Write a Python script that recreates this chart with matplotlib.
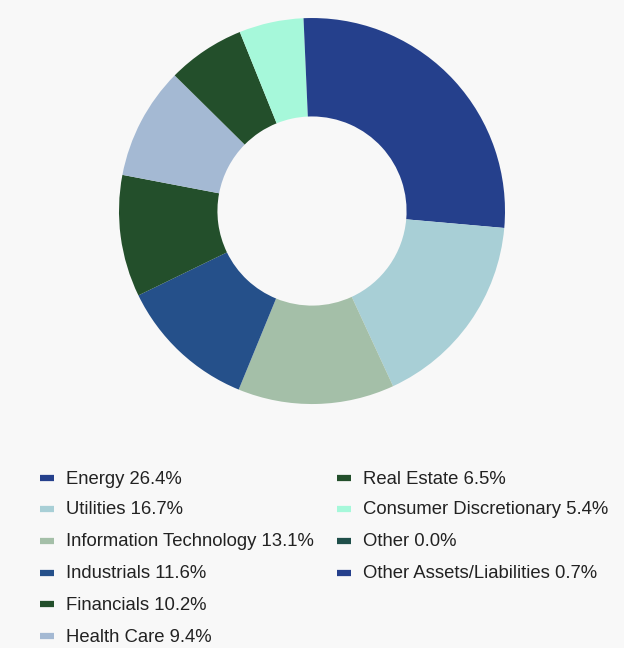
import matplotlib.pyplot as plt
from matplotlib.lines import Line2D

# sector weights
labels = ["Energy", "Utilities", "Information Technology", "Industrials",
          "Financials", "Health Care", "Real Estate", "Consumer Discretionary",
          "Other", "Other Assets/Liabilities"]
values = [26.4, 16.7, 13.1, 11.6, 10.2, 9.4, 6.5, 5.4, 0.0, 0.7]
colors = ["#25408C", "#A8CFD6", "#A4BFA8", "#25508A", "#234F2B",
          "#A4B9D3", "#234F2B", "#A6F8DA", "#1F4F4A", "#25408C"]

plt.rcParams["font.family"] = ["Liberation Sans", "DejaVu Sans"]

fig = plt.figure(figsize=(6.24, 6.48), dpi=100)
fig.patch.set_facecolor("#F8F8F8")

ax = fig.add_axes([(312 - 193) / 624, 0.3765, 386 / 624, 386 / 648])
ax.set_facecolor("#F8F8F8")
ax.pie(values, colors=colors, startangle=90, counterclock=False,
       radius=1.0, wedgeprops=dict(width=0.51, linewidth=0))
ax.set_xlim(-1, 1)
ax.set_ylim(-1, 1)
ax.set_aspect("equal")
ax.axis("off")

# legend: 6 rows in first column, 4 in second
row_y = [478, 509, 541, 573, 604, 636]
col_x = [40, 337]
for i, (lab, val, col) in enumerate(zip(labels, values, colors)):
    c = 0 if i < 6 else 1
    r = i if i < 6 else i - 6
    x0 = col_x[c] / 624
    y0 = 1 - row_y[r] / 648
    fig.add_artist(Line2D([x0, x0 + 14 / 624], [y0, y0], color=col,
                          linewidth=4.5, transform=fig.transFigure,
                          solid_capstyle="butt"))
    fig.text(x0 + 26 / 624, y0 - 1 / 648, f"{lab} {val:.1f}%", fontsize=13.3,
             color="#222222", va="center", ha="left")

fig.savefig("out.png", dpi=100, facecolor=fig.get_facecolor())
